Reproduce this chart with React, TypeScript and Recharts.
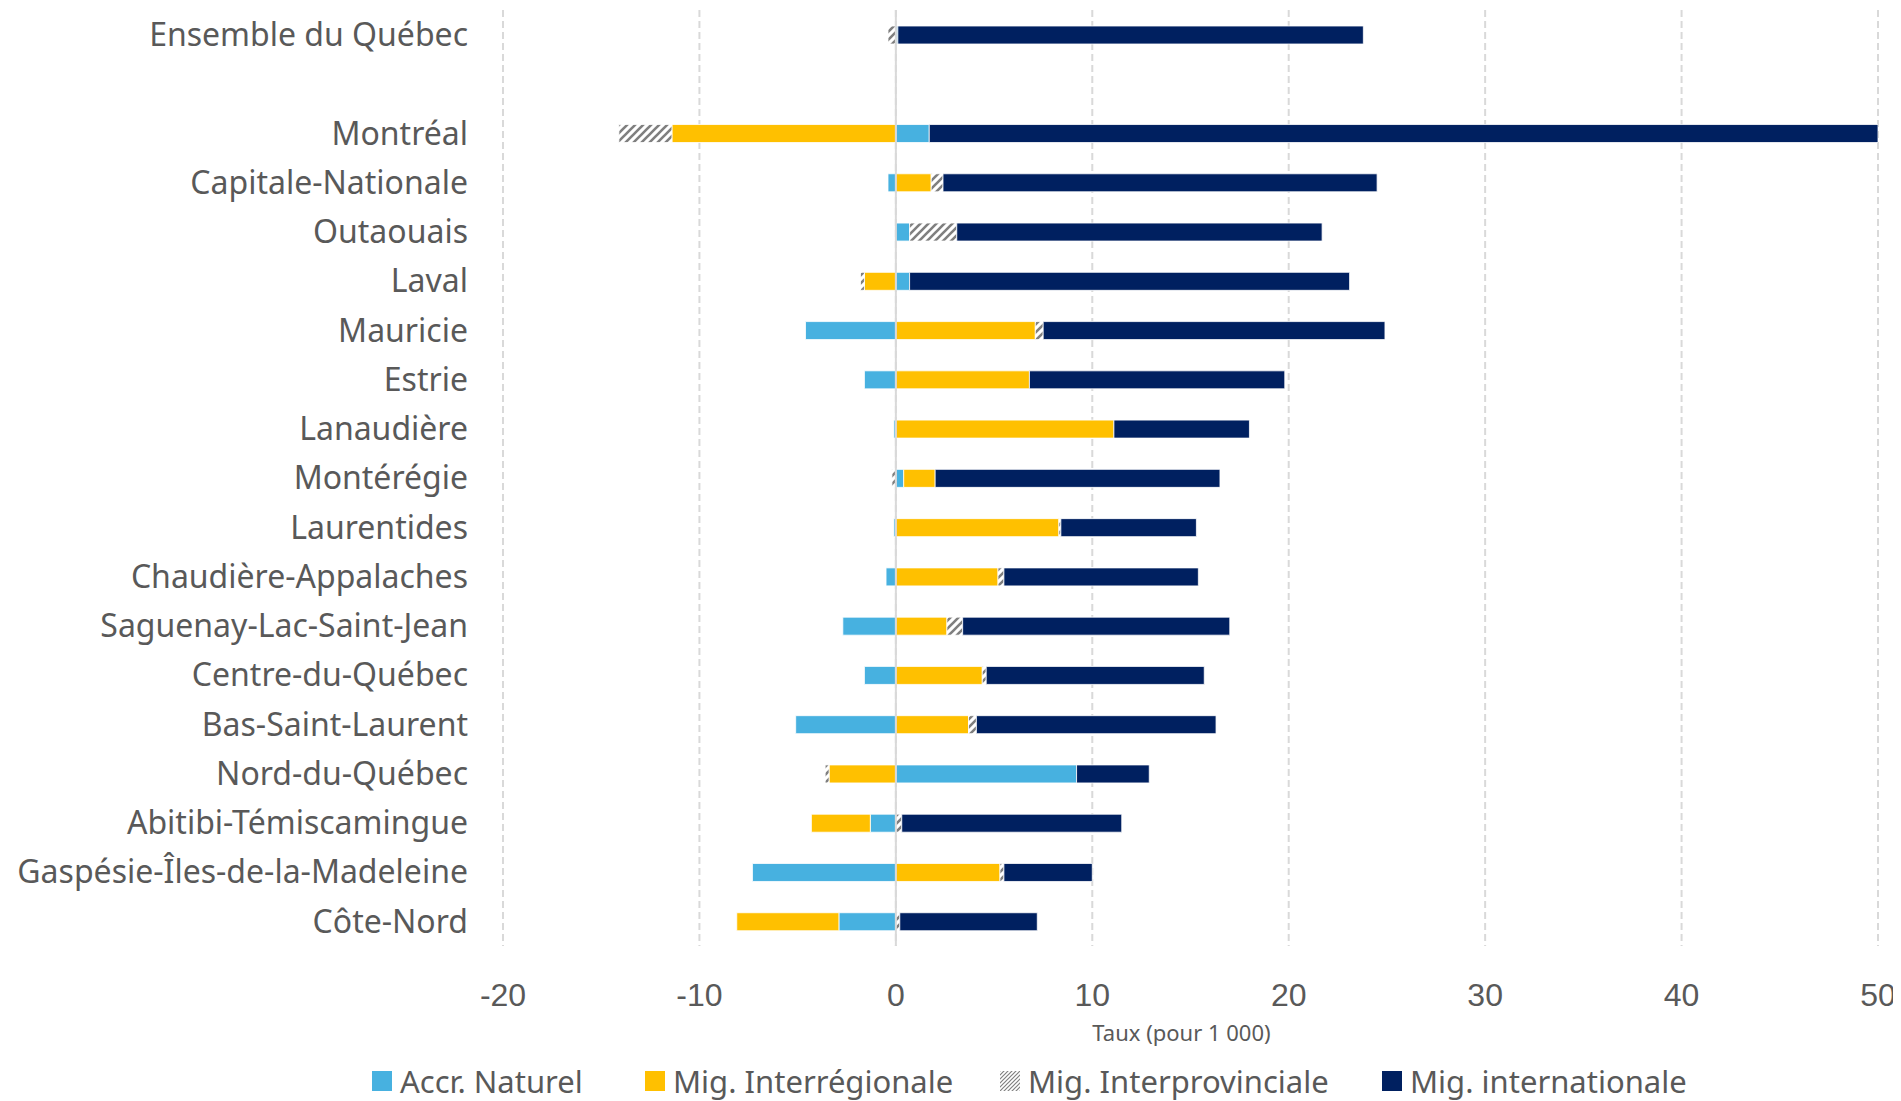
import React from "react";
import {
  BarChart,
  Bar,
  XAxis,
  YAxis,
  CartesianGrid,
  ReferenceLine,
  Legend,
} from "recharts";

const categories = [
  "Ensemble du Québec",
  "",
  "Montréal",
  "Capitale-Nationale",
  "Outaouais",
  "Laval",
  "Mauricie",
  "Estrie",
  "Lanaudière",
  "Montérégie",
  "Laurentides",
  "Chaudière-Appalaches",
  "Saguenay-Lac-Saint-Jean",
  "Centre-du-Québec",
  "Bas-Saint-Laurent",
  "Nord-du-Québec",
  "Abitibi-Témiscamingue",
  "Gaspésie-Îles-de-la-Madeleine",
  "Côte-Nord",
];

const accrNaturel = [0.1, null, 1.7, -0.4, 0.7, 0.7, -4.6, -1.6, -0.1, 0.4, -0.1, -0.5, -2.7, -1.6, -5.1, 9.2, -1.3, -7.3, -2.9];
const migInterregionale = [0, null, -11.4, 1.8, 0, -1.6, 7.1, 6.8, 11.1, 1.6, 8.3, 5.2, 2.6, 4.4, 3.7, -3.4, -3.0, 5.3, -5.2];
const migInterprovinciale = [-0.4, null, -2.7, 0.6, 2.4, -0.2, 0.4, 0, 0, -0.2, 0.1, 0.3, 0.8, 0.2, 0.4, -0.2, 0.3, 0.2, 0.2];
const migInternationale = [23.7, null, 48.3, 22.1, 18.6, 22.4, 17.4, 13.0, 6.9, 14.5, 6.9, 9.9, 13.6, 11.1, 12.2, 3.7, 11.2, 4.5, 7.0];

const xTicks = [-20, -10, 0, 10, 20, 30, 40, 50];

const seriesNames = ["Accr. Naturel", "Mig. Interrégionale", "Mig. Interprovinciale", "Mig. internationale"];

const data = categories.map((name, i) => ({
  name,
  accr: accrNaturel[i],
  interreg: migInterregionale[i],
  interprov: migInterprovinciale[i],
  intl: migInternationale[i],
}));

const COLORS = {
  accr: "#47B1E0",
  interreg: "#FFC000",
  hatch: "#7F7F7F",
  intl: "#002060",
};

const TEXT = "#595959";
const LABEL_FONT = "'Noto Sans', 'Open Sans', sans-serif";
const TICK_FONT = "'Liberation Sans', Arial, sans-serif";

// layout: left offsets of legend items (px, inside chart)
const LEGEND_LEFT = [364, 637, 992, 1374];

const LegendContent = () => {
  const items = [
    { label: seriesNames[0], fill: COLORS.accr },
    { label: seriesNames[1], fill: COLORS.interreg },
    { label: seriesNames[2], fill: "url(#hatchLegend)" },
    { label: seriesNames[3], fill: COLORS.intl },
  ];
  return (
    <div
      style={{
        position: "relative",
        height: 50,
        fontFamily: LABEL_FONT,
        fontSize: 31,
        color: TEXT,
        whiteSpace: "nowrap",
      }}
    >
      {items.map((it, i) => (
        <div
          key={i}
          style={{
            position: "absolute",
            left: LEGEND_LEFT[i],
            top: 13,
            height: 34,
            display: "flex",
            alignItems: "center",
          }}
        >
          <svg width={20} height={20} style={{ marginRight: 8 }}>
            <defs>
              <pattern id="hatchLegend" patternUnits="userSpaceOnUse" width="4" height="4">
                <rect width="4" height="4" fill="#ffffff" />
                <path d="M-1,1 l2,-2 M0,4 l4,-4 M3,5 l2,-2" stroke={COLORS.hatch} strokeWidth={1.2} />
              </pattern>
            </defs>
            <rect x={0} y={0} width={20} height={20} fill={it.fill} />
          </svg>
          <span style={{ lineHeight: "34px" }}>{it.label}</span>
        </div>
      ))}
    </div>
  );
};

export default function App() {
  return (
    <div style={{ width: 1893, height: 1093 }}>
      <BarChart
        width={1893}
        height={1093}
        data={data}
        layout="vertical"
        stackOffset="sign"
        barSize={18}
        margin={{ top: 2, right: 23, bottom: 0, left: 0 }}
      >
        <defs>
          <pattern id="hatch" patternUnits="userSpaceOnUse" width="8" height="8">
            <rect width="8" height="8" fill="#ffffff" />
            <path d="M-2,2 l4,-4 M0,8 l8,-8 M6,10 l4,-4" stroke={COLORS.hatch} strokeWidth={2.6} />
          </pattern>
        </defs>
        <CartesianGrid
          horizontal={false}
          vertical={true}
          stroke="#D9D9D9"
          strokeWidth={2}
          strokeDasharray="7 4"
        />
        <XAxis
          type="number"
          domain={[-20, 50]}
          ticks={xTicks}
          allowDataOverflow
          axisLine={false}
          tickLine={false}
          tickSize={0}
          tickMargin={37}
          height={105}
          tick={{ fill: TEXT, fontSize: 32, fontFamily: TICK_FONT }}
          label={{
            value: "Taux (pour 1 000)",
            position: "insideBottom",
            offset: 10,
            dx: -9,
            fill: TEXT,
            fontSize: 22,
            fontFamily: LABEL_FONT,
          }}
        />
        <YAxis
          type="category"
          dataKey="name"
          width={495}
          axisLine={false}
          tickLine={false}
          tickSize={0}
          tickMargin={35}
          interval={0}
          tick={{ fill: TEXT, fontSize: 32, fontFamily: LABEL_FONT }}
        />
        <ReferenceLine x={0} stroke="#D9D9D9" strokeWidth={2} />
        <Bar dataKey="accr" name={seriesNames[0]} stackId="a" fill={COLORS.accr} stroke="#ffffff" strokeWidth={0.8} isAnimationActive={false} />
        <Bar dataKey="interreg" name={seriesNames[1]} stackId="a" fill={COLORS.interreg} stroke="#ffffff" strokeWidth={0.8} isAnimationActive={false} />
        <Bar dataKey="interprov" name={seriesNames[2]} stackId="a" fill="url(#hatch)" stroke="#ffffff" strokeWidth={0.8} isAnimationActive={false} />
        <Bar dataKey="intl" name={seriesNames[3]} stackId="a" fill={COLORS.intl} stroke="#ffffff" strokeWidth={0.8} isAnimationActive={false} />
        <Legend verticalAlign="bottom" height={50} content={<LegendContent />} />
      </BarChart>
    </div>
  );
}
